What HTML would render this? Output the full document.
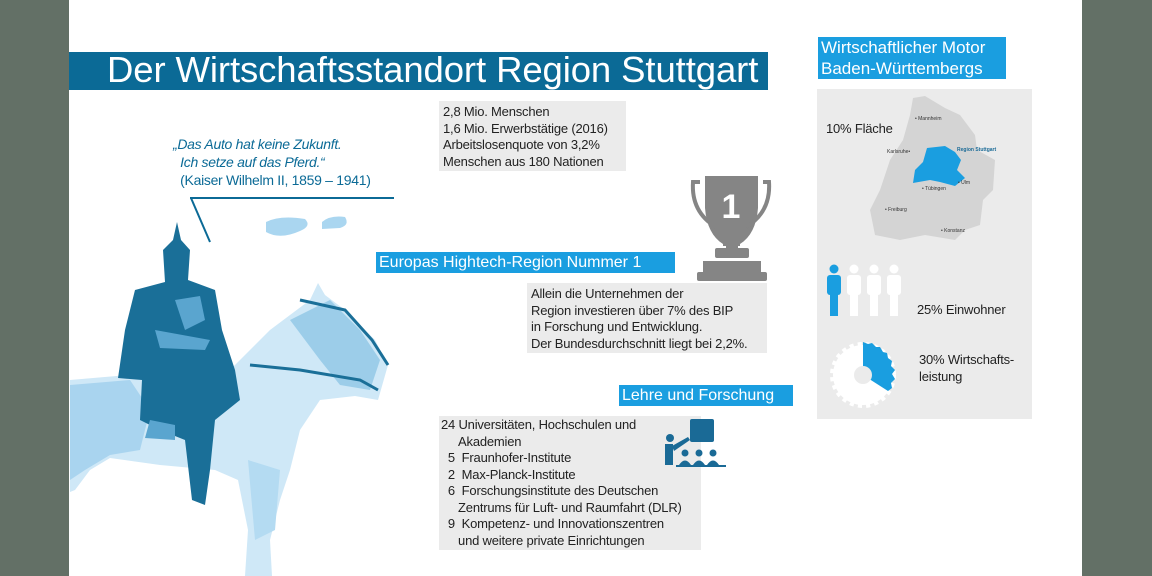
<!DOCTYPE html>
<html><head><meta charset="utf-8"><style>
body{margin:0;width:1152px;height:576px;overflow:hidden;background:#637066;font-family:"Liberation Sans",sans-serif;}
#w{position:absolute;left:69px;top:0;width:1013px;height:576px;background:#fff;}
.a{position:absolute;}
.t{font-size:13px;line-height:16.5px;color:#222;letter-spacing:-0.2px;white-space:nowrap;}
.hb{background:#1a9ee0;color:#fff;font-size:16px;white-space:nowrap;line-height:21px;padding:0 3px;}
.g{background:#ebebeb;}
</style></head><body>
<div id="w"></div>
<div class="a" style="left:69px;top:52px;width:699px;height:38px;background:#0b6a96;"></div>
<div class="a" style="left:107px;top:49px;color:#fff;font-size:36.5px;line-height:42px;white-space:nowrap;letter-spacing:-0.1px;">Der Wirtschaftsstandort Region Stuttgart</div>

<div class="a" style="left:173px;top:135px;color:#0b6a96;font-size:14px;line-height:18px;white-space:nowrap;letter-spacing:-0.3px;"><i>„Das Auto hat keine Zukunft.<br>&nbsp;&nbsp;Ich setze auf das Pferd.“</i><br>&nbsp;&nbsp;(Kaiser Wilhelm II, 1859 – 1941)</div>

<svg class="a" style="left:0;top:0" width="1152" height="576">
<line x1="190" y1="198" x2="394" y2="198" stroke="#0b6a96" stroke-width="2"/>
<line x1="191" y1="198" x2="210" y2="242" stroke="#0b6a96" stroke-width="2"/>
<path d="M266 222 Q280 215 305 219 Q312 226 300 231 Q280 240 266 232Z M322 222 Q330 215 345 217 Q350 225 340 228 L322 229Z" fill="#aad6f0"/>
<path d="M70 380 L140 374 L230 370 L270 330 L310 300 L318 283 L325 295 L345 310 L375 340 L388 365 L378 400 L355 396 L320 400 L300 430 L290 470 L280 500 L270 540 L272 576 L245 576 L248 530 L238 480 L215 470 L160 465 L110 458 L90 470 L75 490 L70 492Z" fill="#cfe8f7"/>
<path d="M70 385 L130 380 L150 410 L140 450 L110 455 L85 470 L70 480Z" fill="#a9d4ef"/>
<path d="M290 320 L330 300 L360 330 L380 360 L370 390 L340 385 L320 360Z" fill="#9ccde9"/>
<path d="M300 300 L345 310 L372 340 L388 365 M250 365 L300 370 L360 380 L378 390" stroke="#1a6f98" stroke-width="3" fill="none"/>
<path d="M248 460 L280 470 L275 530 L255 540Z" fill="#b4dbf2"/>
<path d="M177 222 L181 240 L190 250 L188 280 L215 290 L222 330 L235 370 L240 400 L215 420 L210 470 L205 505 L192 500 L185 440 L160 430 L140 420 L142 380 L118 378 L125 330 L135 290 L165 282 L163 250 L173 240Z" fill="#1a6f98"/>
<path d="M175 300 L200 296 L205 320 L185 330Z M155 330 L210 340 L205 350 L160 348Z M150 420 L175 425 L175 440 L145 438Z" fill="#5aa5cf"/>
</svg>

<div class="a g t" style="left:439px;top:101px;width:179px;height:64px;padding:3px 4px;">2,8 Mio. Menschen<br>1,6 Mio. Erwerbstätige (2016)<br>Arbeitslosenquote von 3,2%<br>Menschen aus 180 Nationen</div>

<svg class="a" style="left:686px;top:172px" width="90" height="112">
<g fill="#858585">
<path d="M19 4 L72 4 L72 36 Q70 62 54 72 L54 74 L37 74 L37 72 Q21 62 19 36Z"/>
<path d="M14 10 L7 10 Q5 40 30 55" stroke="#858585" stroke-width="4" fill="none"/>
<path d="M77 10 L83 10 Q85 40 60 55" stroke="#858585" stroke-width="4" fill="none"/>
<rect x="40" y="72" width="12" height="6"/>
<rect x="29" y="76" width="34" height="10" rx="2"/>
<rect x="17" y="89" width="58" height="13"/>
<rect x="11" y="100" width="70" height="9" rx="2"/>
</g>
<text x="45" y="46" fill="#fff" font-size="34" font-weight="bold" text-anchor="middle" font-family="Liberation Sans">1</text>
</svg>

<div class="a hb" style="left:376px;top:252px;width:293px;">Europas Hightech-Region Nummer 1</div>
<div class="a g t" style="left:527px;top:283px;width:232px;height:64px;padding:3px 4px;font-size:13px;">Allein die Unternehmen der<br>Region investieren über 7% des BIP<br>in Forschung und Entwicklung.<br>Der Bundesdurchschnitt liegt bei 2,2%.</div>

<div class="a hb" style="left:619px;top:385px;width:168px;">Lehre und Forschung</div>
<div class="a g t" style="left:439px;top:416px;width:258px;height:132px;padding:1px 2px;">24 Universitäten, Hochschulen und<br>&nbsp;&nbsp;&nbsp;&nbsp;&nbsp;Akademien<br>&nbsp;&nbsp;5&nbsp;&nbsp;Fraunhofer-Institute<br>&nbsp;&nbsp;2&nbsp;&nbsp;Max-Planck-Institute<br>&nbsp;&nbsp;6&nbsp;&nbsp;Forschungsinstitute des Deutschen<br>&nbsp;&nbsp;&nbsp;&nbsp;&nbsp;Zentrums für Luft- und Raumfahrt (DLR)<br>&nbsp;&nbsp;9&nbsp;&nbsp;Kompetenz- und Innovationszentren<br>&nbsp;&nbsp;&nbsp;&nbsp;&nbsp;und weitere private Einrichtungen</div>
<svg class="a" style="left:660px;top:415px" width="70" height="60">
<g fill="#1a6a96">
<rect x="30" y="4" width="24" height="23" rx="2"/>
<circle cx="10" cy="23" r="4"/>
<rect x="5" y="29" width="8" height="21"/>
<path d="M12 31 L28 22 L30 25 L14 36Z"/>
<circle cx="25" cy="38" r="3.5"/><circle cx="39" cy="38" r="3.5"/><circle cx="53" cy="38" r="3.5"/>
<path d="M19 50 Q25 41 31 50Z M33 50 Q39 41 45 50Z M47 50 Q53 41 59 50Z"/>
<rect x="16" y="50" width="50" height="2"/>
</g></svg>

<div class="a hb" style="left:818px;top:37px;width:182px;font-size:17px;line-height:21px;letter-spacing:0px;">Wirtschaftlicher Motor<br>Baden-Württembergs</div>
<div class="a g" style="left:817px;top:89px;width:215px;height:330px;"></div>
<div class="a t" style="left:826px;top:121px;font-size:13px;">10% Fläche</div>
<svg class="a" style="left:865px;top:90px" width="140" height="155">
<path d="M48 8 L60 6 L80 18 L95 25 L110 45 L112 60 L130 70 L128 100 L118 110 L115 135 L100 140 L90 150 L60 145 L35 150 L10 145 L5 120 L15 100 L25 70 L38 50 L45 25Z" fill="#d4d4d4"/>
<path d="M62 58 L80 56 L90 62 L96 70 L92 80 L100 88 L90 96 L75 92 L65 90 L48 93 L50 80 L58 72Z" fill="#1a9ee0"/>
<g font-size="5" fill="#333" font-family="Liberation Sans"><text x="50" y="30">• Mannheim</text><text x="22" y="63">Karlsruhe•</text><text x="92" y="61" fill="#1a6a96" font-weight="bold">Region Stuttgart</text><text x="57" y="100">• Tübingen</text><text x="93" y="94">• Ulm</text><text x="20" y="121">• Freiburg</text><text x="76" y="142">• Konstanz</text></g>
</svg>
<svg class="a" style="left:824px;top:264px" width="80" height="54">
<g fill="#1a9ee0"><circle cx="10" cy="5" r="4.5"/><rect x="3" y="11" width="14" height="20" rx="3"/><rect x="6" y="28" width="8" height="24"/></g>
<g fill="#fff"><circle cx="30" cy="5" r="4.5"/><rect x="23" y="11" width="14" height="20" rx="3"/><rect x="26" y="28" width="8" height="24"/><circle cx="50" cy="5" r="4.5"/><rect x="43" y="11" width="14" height="20" rx="3"/><rect x="46" y="28" width="8" height="24"/><circle cx="70" cy="5" r="4.5"/><rect x="63" y="11" width="14" height="20" rx="3"/><rect x="66" y="28" width="8" height="24"/></g>
</svg>
<div class="a t" style="left:917px;top:302px;">25% Einwohner</div>
<svg class="a" style="left:830px;top:340px" width="70" height="70">
<circle cx="33" cy="35" r="30" fill="#fff" stroke="#fff" stroke-width="6" stroke-dasharray="4 4"/>
<path d="M33 35 L33 2 L38 4 L42 3 L46 7 L50 7 L53 12 L57 13 L58 18 L62 21 L61 26 L65 30 L62 34 L65 39 L61 43 L62 48 L58 51 Z" fill="#1a9ee0"/>
<circle cx="33" cy="35" r="9" fill="#ebebeb"/>
</svg>
<div class="a t" style="left:919px;top:352px;font-size:13px;">30% Wirtschafts-<br>leistung</div>
</body></html>
